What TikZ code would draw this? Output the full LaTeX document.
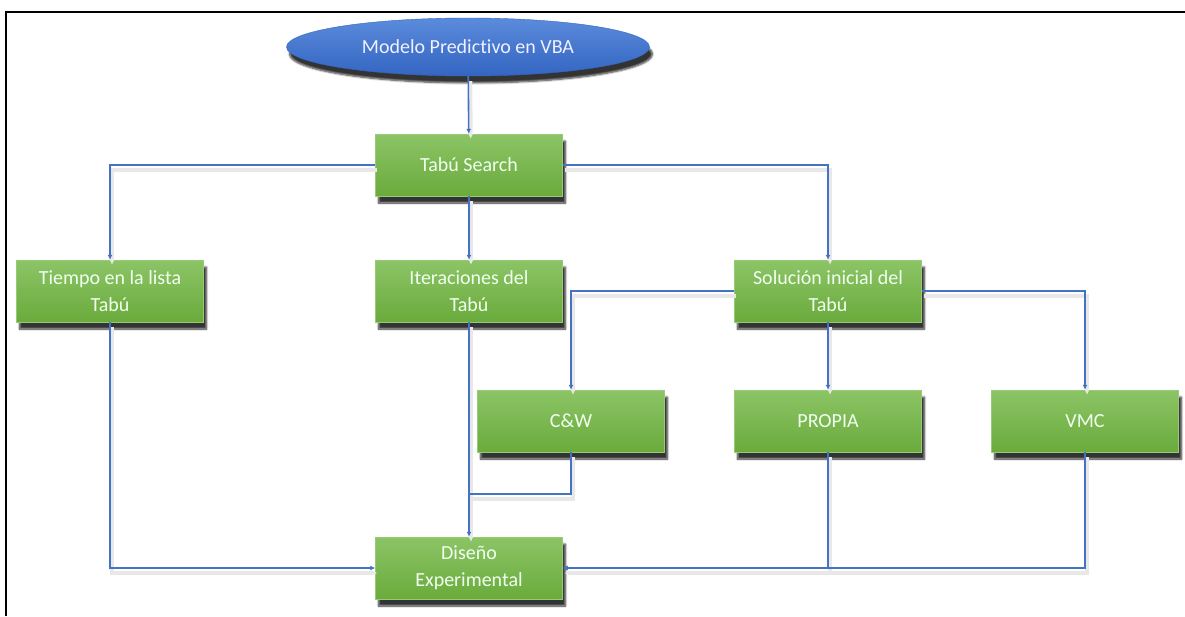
\documentclass[tikz,border=0pt]{standalone}
\usepackage{fontspec}
\setmainfont{Carlito}[Ligatures=NoCommon]
\usetikzlibrary{arrows.meta,shapes.geometric,shadows.blur}
\definecolor{lineblue}{HTML}{4472C4}
\definecolor{boxtop}{HTML}{8CC466}
\definecolor{boxbot}{HTML}{6AAB3C}
\definecolor{elltop}{HTML}{5A8BDB}
\definecolor{ellbot}{HTML}{3465C2}

\begin{document}
\begin{tikzpicture}[
            x=1pt, y=1pt,
            box/.style={rectangle, draw=boxtop!90!white, top color=boxtop, bottom color=boxbot,
                minimum width=187pt, minimum height=62pt, align=center, text=white!94!green,
                font=\fontsize{20}{27}\selectfont,
                blur shadow={shadow xshift=3pt, shadow yshift=-7pt, shadow blur steps=6, shadow opacity=80}},
            head/.style={ellipse, draw=ellbot, top color=elltop, bottom color=ellbot,
                minimum width=363pt, minimum height=58pt, inner sep=0pt, text=white!94!blue,
                font=\fontsize{20}{27}\selectfont,
                blur shadow={shadow xshift=3pt, shadow yshift=-7pt, shadow blur steps=6, shadow opacity=80}},
            conn/.style={draw=lineblue, line width=1.6pt,
                preaction={draw=black!9, line width=4pt, transform canvas={shift={(2pt,-5pt)}}}},
            arr/.style={conn, -{Latex[length=5pt,width=5pt]}}
            ]
            \useasboundingbox (0,0) rectangle (1185,-616);
            \draw[line width=2pt] (6,-616) -- (6,-12) -- (1185,-12);
            \node[head] (modelo) at (468,-47) {Modelo Predictivo en VBA};
            \node[box] (tabu) at (469,-165) {Tabú Search};
            \node[box] (tiempo) at (110,-291) {Tiempo en la lista\\Tabú};
            \node[box] (iter) at (469,-291) {Iteraciones del\\Tabú};
            \node[box] (sol) at (828,-291) {Solución inicial del\\Tabú};
            \node[box] (cw) at (571,-421) {C\&W};
            \node[box] (propia) at (828,-421) {PROPIA};
            \node[box] (vmc) at (1085,-421) {VMC};
            \node[box] (diseno) at (469,-568) {Diseño\\Experimental};
            \coordinate (cwjoin) at (469,-494);
            \draw[arr] (modelo) -- (tabu);
            \draw[arr] (tabu.west) -| (tiempo.north);
            \draw[arr] (tabu) -- (iter);
            \draw[arr] (tabu.east) -| (sol.north);
            \draw[arr] (sol.west) -| (cw.north);
            \draw[arr] (sol) -- (propia);
            \draw[arr] (sol.east) -| (vmc.north);
            \draw[arr] (tiempo.south) |- (diseno.west);
            \draw[arr] (iter) -- (diseno);
            \draw[conn] (cw.south) |- (cwjoin);
            \draw[arr] (propia.south) |- (diseno.east);
            \draw[arr] (vmc.south) |- (diseno.east);
        \end{tikzpicture}
\end{document}
